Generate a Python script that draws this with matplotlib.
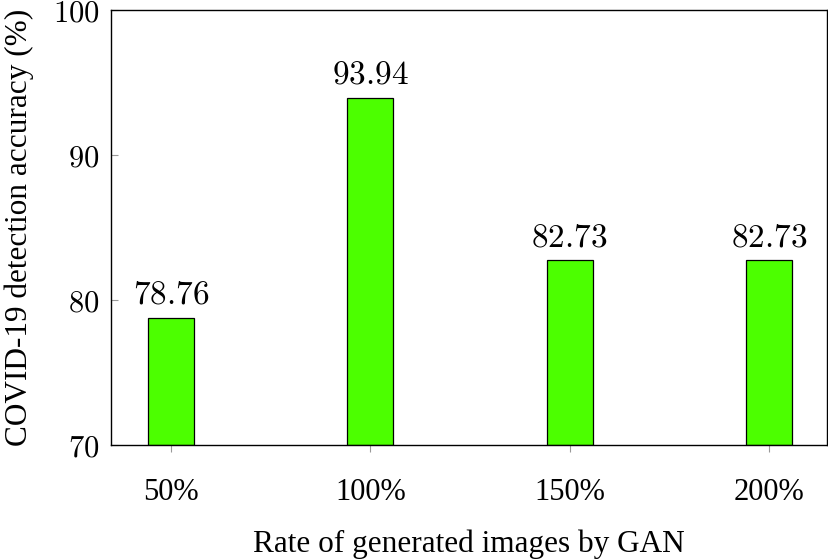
import numpy as np
import matplotlib.pyplot as plt

rates = ["50%", "100%", "150%", "200%"]
accuracy = [78.76, 93.94, 82.73, 82.73]

plt.rcParams['mathtext.fontset'] = 'cm'

fig = plt.figure(figsize=(8.29, 5.59), dpi=100)
ax = fig.add_axes([111/829, 114/559, 716/829, 435/559])

x = np.arange(len(rates))
ax.bar(x, [a - 70 for a in accuracy], bottom=70, width=0.23,
       color="#4cff00", edgecolor="black", linewidth=0.9)

for xi, a in zip(x, accuracy):
    ax.text(xi, a + 0.5, r"$%.2f$" % a, ha="center", va="bottom", fontsize=24)

ax.set_xlim(-0.3, 3.29)
ax.set_ylim(70, 100)
ax.set_yticks([70, 80, 90, 100])
ax.set_yticklabels([r"$%d$" % t for t in [70, 80, 90, 100]], fontsize=22)
ax.set_xticks(x)
ax.set_xticklabels(rates, fontsize=22, family="Liberation Serif")

ax.tick_params(axis="y", direction="in", length=5, color="#999999", width=0.8, pad=8)
ax.tick_params(axis="x", direction="out", length=5, color="#999999", width=0.8, pad=19)
for s in ax.spines.values():
    s.set_linewidth(1.0)

ax.set_xlabel("Rate of generated images by GAN", fontsize=22.5,
              family="Liberation Serif", labelpad=16)
ax.set_ylabel("COVID-19 detection accuracy (%)", fontsize=22.5,
              family="Liberation Serif", labelpad=14)

fig.savefig("out.png", dpi=100)
